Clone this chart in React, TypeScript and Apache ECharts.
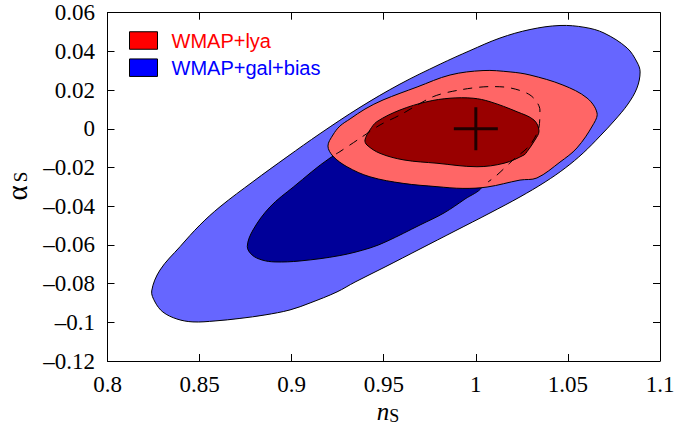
import React, { useEffect, useRef } from "react";
import * as echarts from "echarts";

// ---- axis ticks ----
const xTickValues = [0.8, 0.85, 0.9, 0.95, 1, 1.05, 1.1];
const xTickLabels = ["0.8", "0.85", "0.9", "0.95", "1", "1.05", "1.1"];
const yTickValues = [-0.12, -0.1, -0.08, -0.06, -0.04, -0.02, 0, 0.02, 0.04, 0.06];
const yTickLabels = ["–0.12", "–0.1", "–0.08", "–0.06", "–0.04", "–0.02", "0", "0.02", "0.04", "0.06"];

// ---- axis titles ----
const xTitle = ["n", "S"];
const yTitle = ["α", "S"];

// ---- legend ----
const legendNames = ["WMAP+lya", "WMAP+gal+bias"];
const legendColors = ["#FF0000", "#0000FF"];

// ---- contours (n_s, alpha_s) ----
const galBias95: [number, number][] = [
  [0.8240, -0.0838], [0.8285, -0.0730], [0.8394, -0.0609], [0.8502, -0.0497],
  [0.8611, -0.0403], [0.8790, -0.0273], [0.8975, -0.0145], [0.9154, -0.0025],
  [0.9371, 0.0111], [0.9588, 0.0231], [0.9806, 0.0334], [0.9968, 0.0404],
  [1.0131, 0.0469], [1.0294, 0.0513], [1.0457, 0.0534], [1.0593, 0.0524],
  [1.0696, 0.0495], [1.0821, 0.0418], [1.0875, 0.0345], [1.0892, 0.0294],
  [1.0875, 0.0211], [1.0826, 0.0128], [1.0755, 0.0045], [1.0675, -0.0037],
  [1.0583, -0.0125], [1.0485, -0.0203], [1.0376, -0.0275], [1.0240, -0.0352],
  [1.0077, -0.0435], [0.9887, -0.0528], [0.9697, -0.0621], [0.9507, -0.0714],
  [0.9344, -0.0792], [0.9246, -0.0843], [0.9100, -0.0900], [0.8991, -0.0936],
  [0.8855, -0.0962], [0.8719, -0.0980], [0.8584, -0.0993], [0.8464, -0.0998],
  [0.8377, -0.0983], [0.8301, -0.0947], [0.8258, -0.0895],
];

const galBias68: [number, number][] = [
  [0.9208, -0.0151], [0.9009, -0.0301], [0.8882, -0.0404], [0.8790, -0.0523],
  [0.8759, -0.0608], [0.8785, -0.0652], [0.8839, -0.0678], [0.8910, -0.0688],
  [0.9045, -0.0683], [0.9262, -0.0655], [0.9425, -0.0616], [0.9518, -0.0581],
  [0.9697, -0.0497], [0.9827, -0.0435], [0.9941, -0.0363], [1.0034, -0.0301],
  [1.0023, -0.0239], [0.9914, -0.0161], [0.9588, -0.0110], [0.9290, -0.0120],
];

const lya95: [number, number][] = [
  [0.9197, -0.0089], [0.9224, -0.0032], [0.9262, 0.0014], [0.9317, 0.0051],
  [0.9398, 0.0102], [0.9496, 0.0149], [0.9681, 0.0216], [0.9860, 0.0278],
  [1.0039, 0.0301], [1.0186, 0.0294], [1.0294, 0.0278], [1.0473, 0.0226],
  [1.0604, 0.0159], [1.0658, 0.0082], [1.0636, 0.0020], [1.0549, -0.0099],
  [1.0457, -0.0172], [1.0332, -0.0254], [1.0240, -0.0265], [1.0061, -0.0301],
  [0.9930, -0.0308], [0.9789, -0.0299], [0.9605, -0.0282], [0.9425, -0.0248],
  [0.9300, -0.0196], [0.9224, -0.0141],
];

const lya68: [number, number][] = [
  [0.9398, -0.0058], [0.9425, -0.0006], [0.9463, 0.0037], [0.9588, 0.0097],
  [0.9735, 0.0140], [0.9860, 0.0158], [0.9985, 0.0158], [1.0077, 0.0140],
  [1.0224, 0.0088], [1.0316, 0.0045], [1.0343, -0.0011], [1.0321, -0.0058],
  [1.0278, -0.0118], [1.0262, -0.0135], [1.0153, -0.0178], [1.0006, -0.0196],
  [0.9789, -0.0178], [0.9610, -0.0161], [0.9480, -0.0127], [0.9409, -0.0084],
];

const dashedContour: [number, number][] = [
  [0.9241, -0.0130], [0.9262, -0.0118], [0.9371, -0.0049], [0.9480, 0.0020],
  [0.9588, 0.0071], [0.9768, 0.0166], [0.9914, 0.0201], [1.0077, 0.0218],
  [1.0153, 0.0216], [1.0294, 0.0175], [1.0348, 0.0097], [1.0343, 0.0009],
  [1.0294, -0.0084], [1.0202, -0.0161], [1.0115, -0.0239], [1.0066, -0.0275],
];

const fiducial: [number, number][] = [[1.0, 0.0]];

const SERIF = "Liberation Serif, Times New Roman, serif";
const SANS = "Liberation Sans, Arial, sans-serif";

function polygonSeries(name: string, points: [number, number][], fill: string, z: number) {
  return {
    type: "custom",
    name,
    coordinateSystem: "cartesian2d",
    xAxisIndex: 0,
    yAxisIndex: 0,
    data: points,
    silent: true,
    z,
    renderItem: (params: any, api: any) => {
      if (params.dataIndex !== 0) return null;
      const pts = points.map((p) => api.coord(p));
      return {
        type: "polygon",
        shape: { points: pts, smooth: 0.35 },
        style: { fill, stroke: "#000", lineWidth: 1 },
      };
    },
  };
}

const fmt = (vals: number[], labels: string[]) => (v: number) => {
  const i = vals.findIndex((t) => Math.abs(t - v) < 1e-6);
  return i >= 0 ? "{t|" + labels[i] + "}" : "";
};

const tickRich = { t: { fontFamily: SERIF, fontSize: 23, color: "#000" } };

export default function App() {
  const ref = useRef<HTMLDivElement>(null);
  useEffect(() => {
    if (!ref.current) return;
    const chart = echarts.init(ref.current, null, { renderer: "svg" });
    const axisCommon = {
      type: "value",
      axisLine: { show: true, onZero: false, lineStyle: { color: "#000", width: 1 } },
      axisTick: { show: true, inside: true, length: 7, lineStyle: { color: "#000", width: 1 } },
      splitLine: { show: false },
    };
    chart.setOption({
      animation: false,
      backgroundColor: "#fff",
      textStyle: { fontFamily: SERIF },
      grid: { left: 107.5, right: 17, top: 12.7, bottom: 65, containLabel: false, outerBoundsMode: "none" },
      legend: {
        orient: "vertical",
        left: 124,
        top: 25.5,
        itemWidth: 28,
        itemHeight: 17.5,
        itemGap: 7.2,
        selectedMode: false,
        formatter: (name: string) => (name === legendNames[0] ? "{r|" + name + "}" : "{b|" + name + "}"),
        textStyle: {
          fontFamily: SANS,
          fontSize: 20,
          padding: [0, 0, 0, 9],
          rich: {
            r: { fontFamily: SANS, fontSize: 20, color: legendColors[0] },
            b: { fontFamily: SANS, fontSize: 20, color: legendColors[1] },
          },
        },
        data: legendNames.map((n, i) => ({
          name: n,
          icon: "rect",
          itemStyle: { color: legendColors[i], borderColor: "#000", borderWidth: 1 },
        })),
      },
      graphic: [
        {
          type: "text",
          x: 388,
          y: 411,
          silent: true,
          style: {
            text: "{n|" + xTitle[0] + "}{s|" + xTitle[1] + "}",
            align: "center",
            verticalAlign: "middle",
            rich: {
              n: { fontFamily: SERIF, fontStyle: "italic", fontSize: 25, fill: "#000", color: "#000" },
              s: { fontFamily: SERIF, fontSize: 18, fill: "#000", color: "#000", padding: [10, 0, 0, 0] },
            },
          },
        },
        {
          type: "text",
          x: 16.5,
          y: 186,
          rotation: Math.PI / 2,
          silent: true,
          style: {
            text: "{a|" + yTitle[0] + "}{s|" + yTitle[1] + "}",
            align: "center",
            verticalAlign: "middle",
            rich: {
              a: { fontFamily: SERIF, fontSize: 29, fill: "#000", color: "#000" },
              s: { fontFamily: SERIF, fontSize: 19, fill: "#000", color: "#000", padding: [8, 0, 0, 3] },
            },
          },
        },
      ],
      xAxis: [
        {
          ...axisCommon,
          position: "bottom",
          min: xTickValues[0],
          max: xTickValues[xTickValues.length - 1],
          interval: 0.05,
          axisLabel: { margin: 12, fontFamily: SERIF, fontSize: 23, color: "#000", formatter: fmt(xTickValues, xTickLabels), rich: tickRich },
        },
        {
          ...axisCommon,
          position: "top",
          min: xTickValues[0],
          max: xTickValues[xTickValues.length - 1],
          interval: 0.05,
          axisLabel: { show: false },
        },
      ],
      yAxis: [
        {
          ...axisCommon,
          position: "left",
          min: yTickValues[0],
          max: yTickValues[yTickValues.length - 1],
          interval: 0.02,
          axisLabel: { margin: 12.5, fontFamily: SERIF, fontSize: 23, color: "#000", formatter: fmt(yTickValues, yTickLabels), rich: tickRich },
        },
        {
          ...axisCommon,
          position: "right",
          min: yTickValues[0],
          max: yTickValues[yTickValues.length - 1],
          interval: 0.02,
          axisLabel: { show: false },
        },
      ],
      series: [
        polygonSeries("WMAP+gal+bias", galBias95, "#6666FF", 1),
        polygonSeries("WMAP+gal+bias", galBias68, "#000099", 2),
        polygonSeries("WMAP+lya", lya95, "#FF6666", 3),
        polygonSeries("WMAP+lya", lya68, "#990000", 4),
        {
          type: "line",
          name: "dashed",
          data: dashedContour,
          smooth: 0.3,
          showSymbol: false,
          silent: true,
          z: 5,
          lineStyle: { color: "#000", width: 1, type: [9, 7] },
        },
        {
          type: "scatter",
          name: "fiducial",
          data: fiducial,
          symbol: "path://M0,20H44V23H0Z M20.5,0H23.5V43H20.5Z",
          symbolSize: [44, 43],
          silent: true,
          z: 6,
          itemStyle: { color: "#000" },
        },
      ],
    });
    return () => chart.dispose();
  }, []);
  return <div ref={ref} style={{ position: "fixed", left: 0, top: 0, width: 677, height: 426 }} />;
}
